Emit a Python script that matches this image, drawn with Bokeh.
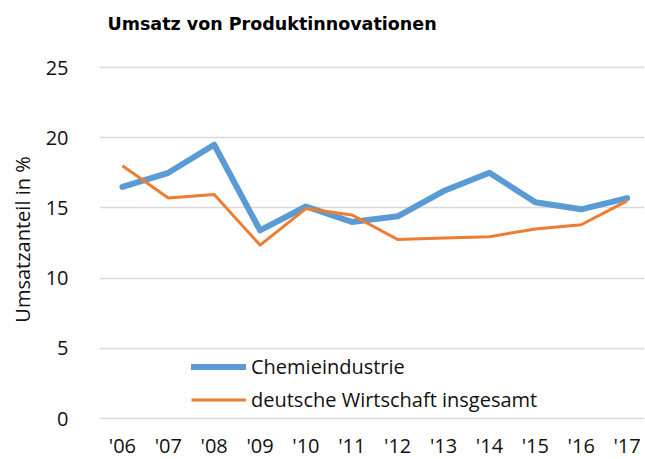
from bokeh.plotting import figure
from bokeh.models import Range1d, FixedTicker, Legend, LegendItem, ColumnDataSource, Label
from bokeh.embed import file_html
from bokeh.resources import INLINE

years = ["'06", "'07", "'08", "'09", "'10", "'11", "'12", "'13", "'14", "'15", "'16", "'17"]
chemie = [16.5, 17.5, 19.5, 13.4, 15.1, 14.0, 14.4, 16.2, 17.5, 15.4, 14.9, 15.7]
wirtschaft = [18.0, 15.7, 15.95, 12.35, 14.95, 14.5, 12.75, 12.85, 12.95, 13.5, 13.8, 15.5]
y_ticks = [0, 5, 10, 15, 20, 25]
title_text = "Umsatz von Produktinnovationen"

xs = list(range(len(years)))
src = ColumnDataSource(dict(x=xs, chemie=chemie, wirtschaft=wirtschaft))

p = figure(frame_width=545, frame_height=360, output_backend="svg", toolbar_location=None,
           x_range=Range1d(-0.5, 11.38), y_range=Range1d(-0.07, 25.57),
           min_border_left=99, min_border_right=0, min_border_bottom=39, min_border_top=59)
p.outline_line_color = None
p.background_fill_color = "white"

title = Label(x=8, y=36, x_units="screen", y_units="screen", text=title_text,
              text_font="DejaVu Sans", text_font_style="bold", text_font_size="17.5px",
              text_color="#000000", text_align="left", text_baseline="alphabetic")
p.add_layout(title, "above")

font = "Open Sans"
tc = "#111111"
for ax in (p.xaxis, p.yaxis):
    ax.axis_line_color = None
    ax.major_tick_line_color = None
    ax.minor_tick_line_color = None
    ax.major_tick_out = 0
    ax.major_tick_in = 0
    ax.minor_tick_out = 0
    ax.major_label_text_font = font
    ax.major_label_text_font_size = "20px"
    ax.major_label_text_color = tc

p.yaxis.ticker = FixedTicker(ticks=y_ticks)
p.yaxis.major_label_standoff = 31
p.yaxis.axis_label = "Umsatzanteil in %"
p.yaxis.axis_label_text_font = font
p.yaxis.axis_label_text_font_style = "normal"
p.yaxis.axis_label_text_font_size = "20px"
p.yaxis.axis_label_text_color = tc
p.yaxis.axis_label_standoff = 7

p.xaxis.ticker = FixedTicker(ticks=xs)
p.xaxis.major_label_overrides = {i: y for i, y in enumerate(years)}
p.xaxis.major_label_standoff = 12
p.xaxis.axis_label_standoff = 0

p.xgrid.grid_line_color = None
p.ygrid.ticker = FixedTicker(ticks=y_ticks)
p.ygrid.grid_line_color = "#D9D9D9"
p.ygrid.grid_line_width = 1.5

r1 = p.line("x", "chemie", source=src, line_color="#5B9BD5", line_width=6, line_join="round", line_cap="round")
r2 = p.line("x", "wirtschaft", source=src, line_color="#ED7D31", line_width=3, line_join="round")

legend = Legend(items=[LegendItem(label="Chemieindustrie", renderers=[r1]),
                       LegendItem(label="deutsche Wirtschaft insgesamt", renderers=[r2])],
                location=(92, 6), padding=0, margin=0, spacing=6,
                glyph_width=55, glyph_height=27, label_height=27, label_standoff=5,
                label_text_font=font, label_text_font_size="20px", label_text_color=tc,
                border_line_alpha=0, background_fill_alpha=0)
p.add_layout(legend, "center")

open("out.html", "w").write(file_html(p, INLINE))
